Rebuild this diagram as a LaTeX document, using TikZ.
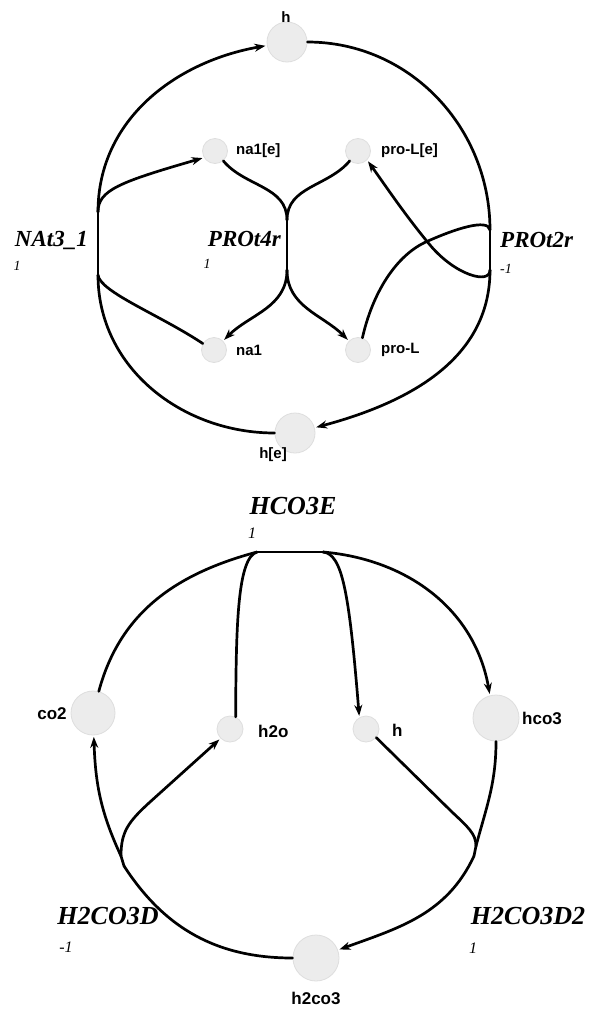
\documentclass[tikz,border=0pt]{standalone}
\usepackage{fontspec}
\setmainfont{Liberation Serif}
\newfontfamily\labsans{Liberation Sans}
\usetikzlibrary{arrows.meta}
\definecolor{metfill}{RGB}{236,236,236}
\definecolor{metdraw}{RGB}{222,222,222}
\tikzset{
  met/.style={circle, fill=metfill, draw=metdraw, line width=0.8pt, inner sep=0pt},
  mlab/.style={font=\labsans\bfseries\fontsize{15}{15}\selectfont, inner sep=0pt},
  mlabb/.style={font=\labsans\bfseries\fontsize{17}{17}\selectfont, inner sep=0pt},
  rlab/.style={font=\bfseries\itshape\fontsize{23}{23}\selectfont, inner sep=0pt},
  rlabb/.style={font=\bfseries\itshape\fontsize{26}{26}\selectfont, inner sep=0pt},
  slab/.style={font=\itshape\fontsize{14}{14}\selectfont, inner sep=0pt},
  slabb/.style={font=\itshape\fontsize{16}{16}\selectfont, inner sep=0pt},
  ln/.style={line width=2.7pt, line cap=round},
  arr/.style={ln, -{Stealth[length=11pt,width=8pt]}, shorten >=1.5pt},
}
\begin{document}
\begin{tikzpicture}[x=1pt,y=1pt]
\fill[white] (0,0) rectangle (593,-1009);
\useasboundingbox (0,0) rectangle (593,-1009);

% ---------- top diagram: metabolites ----------
\node[met, minimum size=40pt] (htop) at (287,-42) {};
\node[met, minimum size=25pt] (na1e) at (215,-151) {};
\node[met, minimum size=25pt] (proLe) at (358,-151) {};
\node[met, minimum size=25pt] (na1) at (214,-350) {};
\node[met, minimum size=25pt] (proL) at (358,-350) {};
\node[met, minimum size=40pt] (he) at (295,-433) {};

\node[mlab] (htopL) at (286,-17) {h};
\node[mlab, anchor=west] (na1eL) at (236,-151) {na1[e]};
\node[mlab, anchor=west] (proLeL) at (381,-151) {pro-L[e]};
\node[mlab, anchor=west] (na1L) at (236,-350) {na1};
\node[mlab, anchor=west] (proLL) at (381,-350) {pro-L};
\node[mlab] (heL) at (273,-455) {h[e]};

% reaction labels
\node[rlab, anchor=base east] (NAt3) at (88,-246) {NAt3\_1};
\node[slab] (NAt3s) at (17,-266) {1};
\node[rlab, anchor=base east] (PROt4r) at (281,-246) {PROt4r};
\node[slab] (PROt4rs) at (207,-264) {1};
\node[rlab, anchor=base west] (PROt2r) at (500,-247) {PROt2r};
\node[slab] (PROt2rs) at (506,-269) {-1};

% reaction bars
\coordinate (N3t) at (98,-212);
\coordinate (N3b) at (98,-275);
\coordinate (P4t) at (287,-220);
\coordinate (P4b) at (287,-270);
\coordinate (P2t) at (490,-230);
\coordinate (P2b) at (490,-270);

\draw[ln] (N3t) -- (N3b);
\draw[ln] (P4t) -- (P4b);
\draw[ln] (P2t) -- (P2b);

% NAt3_1
\draw[arr] (N3t) to[out=90, in=190] (htop);
\draw[arr] (N3t) .. controls (98,-190) and (120,-182) .. (na1e.211);
\draw[ln] (na1.150) .. controls (160,-315) and (100,-292) .. (N3b);
\draw[ln] (he) to[out=180, in=-90] (N3b);

% PROt4r
\draw[ln] (na1e) to[out=-50, in=90] (P4t);
\draw[ln] (proLe) to[out=-130, in=90] (P4t);
\draw[arr] (P4b) to[out=-90, in=45] (na1);
\draw[arr] (P4b) to[out=-90, in=135] (proL);

% PROt2r
\draw[ln] (htop) to[out=0, in=90] (P2t);
\draw[ln] (proL.70) .. controls (372,-295) and (395,-255) .. (428,-241) .. controls (455,-229) and (488,-218) .. (P2t);
\draw[arr] (P2b) .. controls (490,-285) and (455,-275) .. (430,-245) .. controls (405,-215) and (385,-185) .. (proLe.-45);
\draw[arr] (P2b) to[out=-90, in=15] (he);

% ---------- bottom diagram ----------
\node[met, minimum size=44pt] (co2) at (93,-713) {};
\node[met, minimum size=26pt] (h2o) at (230,-729) {};
\node[met, minimum size=26pt] (hb) at (366,-729) {};
\node[met, minimum size=46pt] (hco3) at (496,-718) {};
\node[met, minimum size=46pt] (h2co3) at (316,-958) {};

\node[mlabb] (co2L) at (52,-714) {co2};
\node[mlabb, anchor=west] (h2oL) at (258,-731) {h2o};
\node[mlabb, anchor=west] (hbL) at (392,-730) {h};
\node[mlabb, anchor=west] (hco3L) at (522,-718) {hco3};
\node[mlabb] (h2co3L) at (316,-998) {h2co3};

\node[rlabb, anchor=base] (HCO3E) at (293,-514) {HCO3E};
\node[slabb] (HCO3Es) at (252,-533) {1};
\node[rlabb, anchor=base] (H2CO3D) at (108,-924) {H2CO3D};
\node[slabb] (H2CO3Ds) at (66,-947) {-1};
\node[rlabb, anchor=base] (H2CO3D2) at (528,-924) {H2CO3D2};
\node[slabb] (H2CO3D2s) at (473,-948) {1};

\coordinate (HL) at (257,-552);
\coordinate (HR) at (323,-552);
\coordinate (D1t) at (121,-856);
\coordinate (D1b) at (124,-866);
\coordinate (D2t) at (476,-846);
\coordinate (D2b) at (474,-856);

\draw[ln] (HL) -- (HR);
\draw[ln] (D1t) -- (D1b);
\draw[ln] (D2t) -- (D2b);

% HCO3E
\draw[ln] (co2) to[out=75, in=195] (HL);
\draw[ln] (h2o.65) .. controls (236,-620) and (238,-558) .. (HL);
\draw[arr] (HR) .. controls (342,-554) and (349,-590) .. (hb.120);
\draw[arr] (HR) to[out=-5, in=100] (hco3.105);

% H2CO3D
\draw[ln] (h2co3) to[out=180, in=-57] (D1b);
\draw[arr] (D1t) to[out=115, in=-88] (co2);
\draw[arr] (D1t) .. controls (121,-832) and (128,-822) .. (150,-802) -- (h2o.225);

% H2CO3D2
\draw[ln] (hb.-40) -- (452,-812) .. controls (468,-827) and (476,-834) .. (D2t);
\draw[ln] (hco3) to[out=-90, in=75] (D2t);
\draw[arr] (D2b) to[out=-115, in=20] (h2co3);
\end{tikzpicture}
\end{document}
